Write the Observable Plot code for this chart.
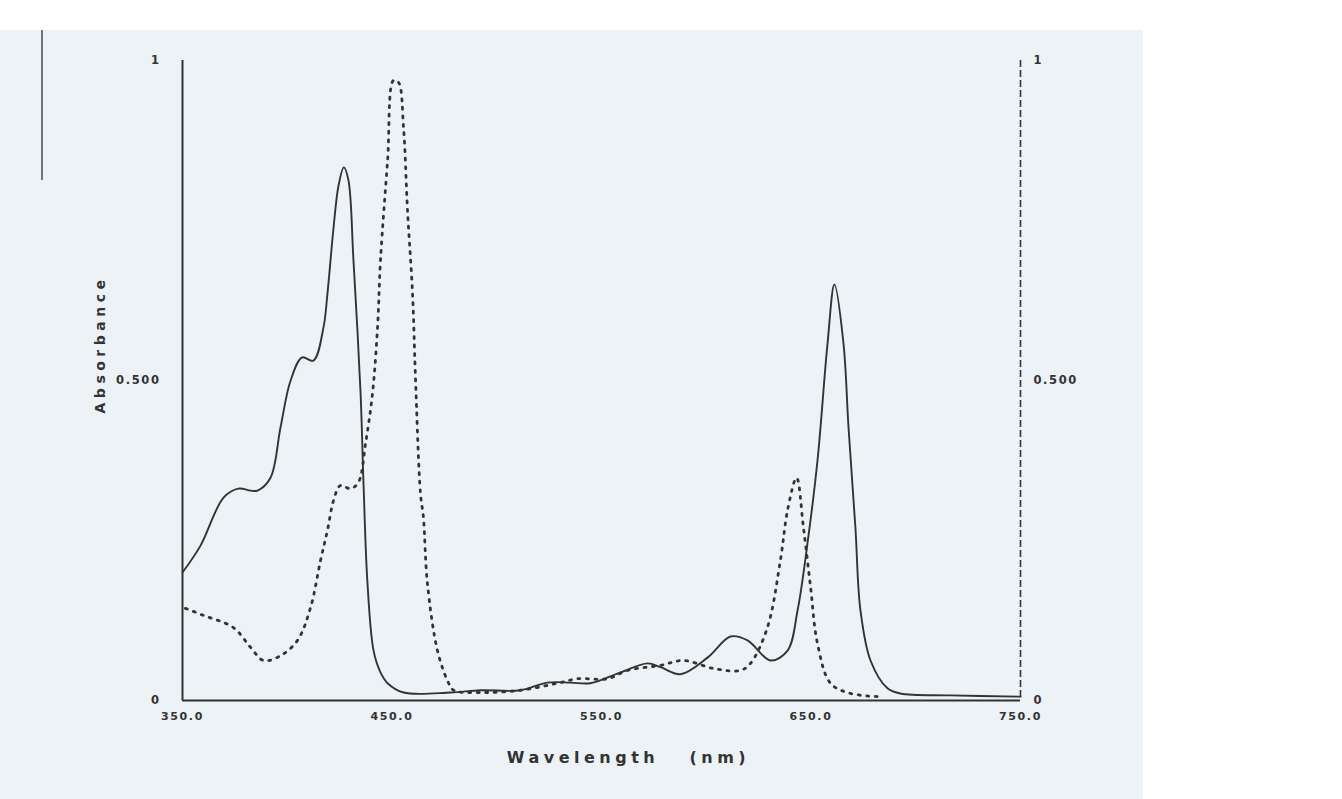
<!DOCTYPE html>
<html>
<head>
<meta charset="utf-8">
<script src="https://cdn.jsdelivr.net/npm/d3@7"></script>
<script src="https://cdn.jsdelivr.net/npm/@observablehq/plot@0.6"></script>
<style>
  html, body { margin: 0; padding: 0; background: #ffffff; }
  #paper { position: absolute; left: 0; top: 30px; width: 1143px; height: 769px; background: #ecf2f5; }
  #scanline { position: absolute; left: 41px; top: 0; width: 2px; height: 150px; background: #555; opacity: 0.8; }
  #chart { position: absolute; left: 0; top: 0; }
  #chart g[aria-label="text"] text { letter-spacing: 4.5px; }
  #chart g[aria-label$="tick label"] text { letter-spacing: 1.6px; }
</style>
</head>
<body>
<div id="paper"><div id="scanline"></div><div id="chart"></div></div>
<script>
// Solid spectrum (wavelength nm, absorbance)
const solidNm  = [350.0, 358.6, 369.6, 376.7, 382.5, 385.8, 392.0, 396.8, 401.6, 407.1, 412.5, 417.3, 419.2, 422.1, 424.5, 427.0, 429.2, 431.6, 435.0, 436.4, 438.3, 441.2, 444.5, 447.9, 455.5, 477.9, 492.2, 511.3, 524.2, 535.2, 544.7, 559.1, 572.0, 578.2, 587.7, 600.6, 611.6, 619.7, 630.7, 638.8, 643.6, 648.3, 653.1, 657.9, 661.2, 665.5, 667.9, 671.2, 673.6, 678.4, 686.5, 692.7, 716.6, 750.0];
const solidAbs = [0.200, 0.242, 0.317, 0.331, 0.328, 0.328, 0.348, 0.427, 0.500, 0.536, 0.531, 0.583, 0.636, 0.739, 0.805, 0.833, 0.813, 0.688, 0.480, 0.339, 0.183, 0.078, 0.044, 0.027, 0.0125, 0.0125, 0.016, 0.016, 0.028, 0.028, 0.027, 0.044, 0.058, 0.052, 0.041, 0.067, 0.100, 0.094, 0.0625, 0.078, 0.141, 0.245, 0.375, 0.558, 0.650, 0.558, 0.427, 0.270, 0.141, 0.0625, 0.019, 0.011, 0.008, 0.006];

// Dotted spectrum (wavelength nm, absorbance)
const dottedNm  = [351.4, 360.0, 374.3, 382.5, 388.7, 396.8, 404.9, 411.1, 415.9, 419.2, 422.1, 425.4, 430.2, 434.0, 437.4, 440.7, 443.1, 444.5, 447.9, 450.7, 453.1, 455.5, 457.4, 459.8, 461.2, 463.6, 465.0, 466.9, 471.7, 476.5, 479.4, 492.2, 511.3, 530.4, 538.5, 552.9, 562.4, 578.2, 589.1, 603.5, 616.3, 621.1, 629.2, 635.4, 638.8, 643.1, 646.4, 649.8, 653.1, 659.3, 668.9, 683.2];
const dottedAbs = [0.144, 0.133, 0.114, 0.083, 0.0625, 0.070, 0.094, 0.145, 0.219, 0.266, 0.3125, 0.336, 0.331, 0.341, 0.402, 0.480, 0.583, 0.6875, 0.844, 0.969, 0.966, 0.895, 0.766, 0.636, 0.505, 0.323, 0.286, 0.183, 0.078, 0.031, 0.016, 0.0125, 0.016, 0.028, 0.034, 0.034, 0.047, 0.055, 0.0625, 0.050, 0.047, 0.058, 0.114, 0.219, 0.297, 0.348, 0.270, 0.177, 0.089, 0.027, 0.011, 0.006];

// Axis ticks and labels
const xTicks = [350, 450, 550, 650, 750];
const xTickLabels = ["350.0", "450.0", "550.0", "650.0", "750.0"];
const yTicks = [0, 0.5, 1];
const yTickLabels = ["0", "0.500", "1"];
const yTitle = ["Absorbance"];
const xTitle = ["Wavelength\u00a0\u00a0\u00a0(nm)"];

const solid = solidNm.map((x, i) => ({x, y: solidAbs[i]}));
const dotted = dottedNm.map((x, i) => ({x, y: dottedAbs[i]}));

const ink = "#333333";
const xFmt = d => xTickLabels[xTicks.indexOf(d)];
const yFmt = d => yTickLabels[yTicks.indexOf(d)];

const chart = Plot.plot({
  width: 1143,
  height: 769,
  marginLeft: 182,
  marginRight: 123,
  marginTop: 30,
  marginBottom: 99,
  x: {domain: [350, 750]},
  y: {domain: [0, 1]},
  style: {background: "transparent", fontFamily: "'DejaVu Sans', sans-serif", color: ink},
  marks: [
    Plot.ruleY([0], {stroke: ink, strokeWidth: 2.2}),
    Plot.ruleX([350], {stroke: ink, strokeWidth: 2}),
    Plot.ruleX([750], {stroke: ink, strokeWidth: 1.6, strokeDasharray: "7,3"}),
    Plot.axisX({ticks: xTicks, tickFormat: xFmt, tickSize: 0, tickPadding: 12, label: null,
      fontSize: 11, fontWeight: "bold"}),
    Plot.axisY({anchor: "left", ticks: yTicks, tickFormat: yFmt, tickSize: 0, tickPadding: 22, label: null,
      fontSize: 11.5, fontWeight: "bold"}),
    Plot.axisY({anchor: "right", ticks: yTicks, tickFormat: yFmt, tickSize: 0, tickPadding: 13, label: null,
      fontSize: 11.5, fontWeight: "bold"}),
    Plot.line(solid, {x: "x", y: "y", curve: "catmull-rom", stroke: ink, strokeWidth: 1.9}),
    Plot.line(dotted, {x: "x", y: "y", curve: "catmull-rom", stroke: ink, strokeWidth: 2.8,
      strokeDasharray: "2,6.5", strokeLinecap: "round"}),
    Plot.text(yTitle, {frameAnchor: "left", textAnchor: "middle", rotate: -90, dx: -82, dy: -36, fontSize: 14,
      fontWeight: "bold", fill: ink}),
    Plot.text(xTitle, {frameAnchor: "bottom", textAnchor: "middle", dx: 27, dy: 62, fontSize: 16,
      fontWeight: "bold", fill: ink})
  ]
});
document.getElementById("chart").appendChild(chart);
</script>
</body>
</html>
